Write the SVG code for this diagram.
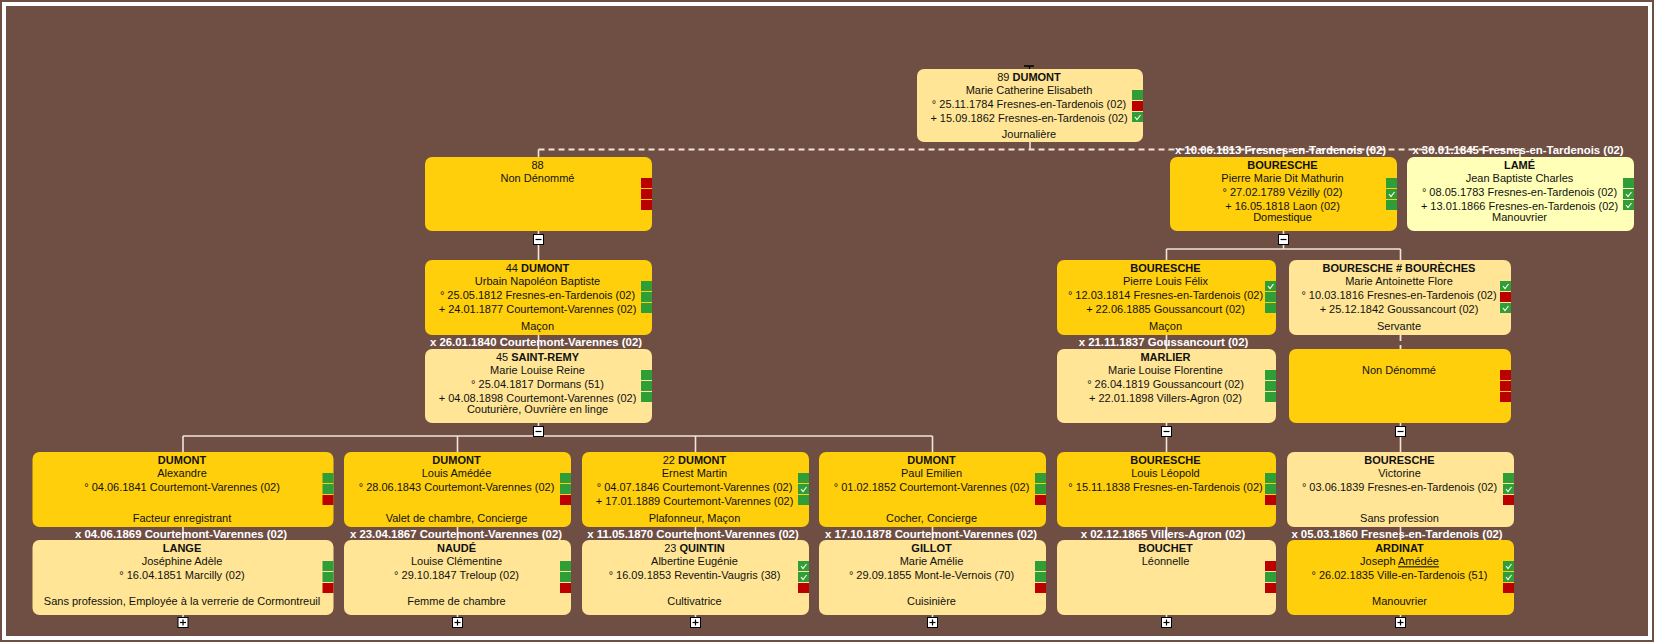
<svg xmlns="http://www.w3.org/2000/svg" xmlns:xlink="http://www.w3.org/1999/xlink" width="1654" height="642" viewBox="0 0 1654 642">
<style>
.bgf{fill:#6F4F43}
.frame{fill:none;stroke:#FFFFFF;stroke-width:4}
.m{fill:#FFCF0C}
.f{fill:#FFE595}
.p{fill:#FFFFB8}
.t{font-family:"Liberation Sans",Arial,sans-serif;font-size:11px;fill:#111;text-anchor:middle}
.b{font-weight:bold}
.lbl{font-family:"Liberation Sans",Arial,sans-serif;font-size:11.4px;font-weight:bold;fill:#FFFFFF;text-anchor:middle}
.gr{fill:#2F9E36}
.rd{fill:#BB0000}
.ln{stroke:#F2E4DA;stroke-width:1.6;fill:none}
.dl{stroke:#F2E4DA;stroke-width:1.8;fill:none;stroke-dasharray:6 4}
.btn{fill:#FFFFFF;stroke:#000;stroke-width:1}
.sg{stroke:#000;stroke-width:1.2;fill:none}
.ck{stroke:#FFFFFF;stroke-width:1.1;fill:none}
</style>
<defs>
<g id="ck"><polyline class="ck" points="3,5 5,7.5 8.5,3"/></g>
<g id="minus"><rect class="btn" x="-5" y="-5" width="10" height="10"/><line class="sg" x1="-3" y1="0" x2="3" y2="0"/></g>
<g id="plus"><rect class="btn" x="-5" y="-5" width="10" height="10"/><line class="sg" x1="-3" y1="0" x2="3" y2="0"/><line class="sg" x1="0" y1="-3" x2="0" y2="3"/></g>
</defs>
<rect class="bgf" x="0" y="0" width="1654" height="642"/>
<rect class="frame" x="4" y="4" width="1646" height="634"/>

<g id="connectors">
<line x1="1024" y1="66" x2="1034" y2="66" stroke="#000" stroke-width="1.5"/>
<line x1="1029.5" y1="66" x2="1029.5" y2="69" stroke="#000" stroke-width="1.2"/>
<line class="ln" x1="1030" y1="142" x2="1030" y2="149.5"/>
<line class="dl" x1="538.5" y1="149.5" x2="1520" y2="149.5"/>
<line class="ln" x1="538.5" y1="149.5" x2="538.5" y2="157"/>
<line class="ln" x1="1283.5" y1="149.5" x2="1283.5" y2="157"/>
<line class="ln" x1="1520" y1="149.5" x2="1520" y2="157"/>
<line class="ln" x1="538.5" y1="231" x2="538.5" y2="260"/>
<line class="ln" x1="1283.5" y1="231" x2="1283.5" y2="249"/>
<line class="ln" x1="1166.5" y1="249" x2="1400.5" y2="249"/>
<line class="ln" x1="1166.5" y1="249" x2="1166.5" y2="260"/>
<line class="ln" x1="1400.5" y1="249" x2="1400.5" y2="260"/>
<line class="ln" x1="538.5" y1="335" x2="538.5" y2="349"/>
<line class="ln" x1="1166.5" y1="335" x2="1166.5" y2="349"/>
<line class="dl" x1="1400.5" y1="335" x2="1400.5" y2="349" stroke-dasharray="4 3"/>
<line class="ln" x1="538.5" y1="423" x2="538.5" y2="436"/>
<line class="ln" x1="183" y1="436" x2="932.5" y2="436"/>
<line class="ln" x1="183" y1="436" x2="183" y2="452"/>
<line class="ln" x1="457.5" y1="436" x2="457.5" y2="452"/>
<line class="ln" x1="695.5" y1="436" x2="695.5" y2="452"/>
<line class="ln" x1="932.5" y1="436" x2="932.5" y2="452"/>
<line class="ln" x1="1166.5" y1="423" x2="1166.5" y2="452"/>
<line class="ln" x1="1400.5" y1="423" x2="1400.5" y2="452"/>
<line class="ln" x1="183" y1="527" x2="183" y2="540"/>
<line class="ln" x1="457.5" y1="527" x2="457.5" y2="540"/>
<line class="ln" x1="695.5" y1="527" x2="695.5" y2="540"/>
<line class="ln" x1="932.5" y1="527" x2="932.5" y2="540"/>
<line class="ln" x1="1166.5" y1="527" x2="1166.5" y2="540"/>
<line class="ln" x1="1400.5" y1="527" x2="1400.5" y2="540"/>
<line class="ln" x1="183" y1="615" x2="183" y2="618"/>
<line class="ln" x1="457.5" y1="615" x2="457.5" y2="618"/>
<line class="ln" x1="695.5" y1="615" x2="695.5" y2="618"/>
<line class="ln" x1="932.5" y1="615" x2="932.5" y2="618"/>
<line class="ln" x1="1166.5" y1="615" x2="1166.5" y2="618"/>
<line class="ln" x1="1400.5" y1="615" x2="1400.5" y2="618"/>
<use xlink:href="#minus" x="538.5" y="239.5"/>
<use xlink:href="#minus" x="1283.5" y="239.5"/>
<use xlink:href="#minus" x="538.5" y="431.5"/>
<use xlink:href="#minus" x="1166.5" y="431.5"/>
<use xlink:href="#minus" x="1400.5" y="431.5"/>
<use xlink:href="#plus" x="183" y="622.5"/>
<use xlink:href="#plus" x="457.5" y="622.5"/>
<use xlink:href="#plus" x="695.5" y="622.5"/>
<use xlink:href="#plus" x="932.5" y="622.5"/>
<use xlink:href="#plus" x="1166.5" y="622.5"/>
<use xlink:href="#plus" x="1400.5" y="622.5"/>
<text class="lbl" x="1280.5" y="154">x 10.06.1813 Fresnes-en-Tardenois (02)</text>
<text class="lbl" x="1518" y="154">x 30.01.1845 Fresnes-en-Tardenois (02)</text>
<text class="lbl" x="536" y="346">x 26.01.1840 Courtemont-Varennes (02)</text>
<text class="lbl" x="1163.5" y="346">x 21.11.1837 Goussancourt (02)</text>
<text class="lbl" x="181" y="537.5">x 04.06.1869 Courtemont-Varennes (02)</text>
<text class="lbl" x="456" y="537.5">x 23.04.1867 Courtemont-Varennes (02)</text>
<text class="lbl" x="693" y="537.5">x 11.05.1870 Courtemont-Varennes (02)</text>
<text class="lbl" x="931" y="537.5">x 17.10.1878 Courtemont-Varennes (02)</text>
<text class="lbl" x="1163" y="537.5">x 02.12.1865 Villers-Agron (02)</text>
<text class="lbl" x="1397" y="537.5">x 05.03.1860 Fresnes-en-Tardenois (02)</text>
</g>

<g id="n89">
<rect class="f" x="917" y="69" width="226" height="73" rx="7"/>
<rect class="gr" x="1132" y="90" width="11" height="10"/><rect class="rd" x="1132" y="101" width="11" height="10"/><rect class="gr" x="1132" y="112" width="11" height="10"/><use xlink:href="#ck" x="1132" y="112"/>
<text class="t" x="1029" y="80.7">89 <tspan class="b">DUMONT</tspan></text>
<text class="t" x="1029" y="94.3">Marie Catherine Elisabeth</text>
<text class="t" x="1029" y="108">° 25.11.1784 Fresnes-en-Tardenois (02)</text>
<text class="t" x="1029" y="121.6">+ 15.09.1862 Fresnes-en-Tardenois (02)</text>
<text class="t" x="1029" y="137.7">Journalière</text>
</g>

<g id="n88">
<rect class="m" x="425" y="157" width="227" height="74" rx="7"/>
<rect class="rd" x="641" y="178" width="11" height="10"/><rect class="rd" x="641" y="189" width="11" height="10"/><rect class="rd" x="641" y="200" width="11" height="10"/>
<text class="t" x="537.5" y="168.7">88</text>
<text class="t" x="537.5" y="182.3">Non Dénommé</text>
</g>

<g id="n_bouresche_pm">
<rect class="m" x="1170" y="157" width="227" height="74" rx="7"/>
<rect class="gr" x="1386" y="178" width="11" height="10"/><rect class="gr" x="1386" y="189" width="11" height="10"/><use xlink:href="#ck" x="1386" y="189"/><rect class="gr" x="1386" y="200" width="11" height="10"/>
<text class="t" x="1282.5" y="168.7"><tspan class="b">BOURESCHE</tspan></text>
<text class="t" x="1282.5" y="182.3">Pierre Marie Dit Mathurin</text>
<text class="t" x="1282.5" y="196">° 27.02.1789 Vézilly (02)</text>
<text class="t" x="1282.5" y="209.6">+ 16.05.1818 Laon (02)</text>
<text class="t" x="1282.5" y="221">Domestique</text>
</g>

<g id="n_lame">
<rect class="p" x="1407" y="157" width="227" height="74" rx="7"/>
<rect class="gr" x="1623" y="178" width="11" height="10"/><rect class="gr" x="1623" y="189" width="11" height="10"/><use xlink:href="#ck" x="1623" y="189"/><rect class="gr" x="1623" y="200" width="11" height="10"/><use xlink:href="#ck" x="1623" y="200"/>
<text class="t" x="1519.5" y="168.7"><tspan class="b">LAMÉ</tspan></text>
<text class="t" x="1519.5" y="182.3">Jean Baptiste Charles</text>
<text class="t" x="1519.5" y="196">° 08.05.1783 Fresnes-en-Tardenois (02)</text>
<text class="t" x="1519.5" y="209.6">+ 13.01.1866 Fresnes-en-Tardenois (02)</text>
<text class="t" x="1519.5" y="221">Manouvrier</text>
</g>

<g id="n44">
<rect class="m" x="425" y="260" width="227" height="75" rx="7"/>
<rect class="gr" x="641" y="281" width="11" height="10"/><rect class="gr" x="641" y="292" width="11" height="10"/><rect class="gr" x="641" y="303" width="11" height="10"/>
<text class="t" x="537.5" y="271.7">44 <tspan class="b">DUMONT</tspan></text>
<text class="t" x="537.5" y="285.3">Urbain Napoléon Baptiste</text>
<text class="t" x="537.5" y="299">° 25.05.1812 Fresnes-en-Tardenois (02)</text>
<text class="t" x="537.5" y="312.6">+ 24.01.1877 Courtemont-Varennes (02)</text>
<text class="t" x="537.5" y="329.7">Maçon</text>
</g>

<g id="n_bouresche_plf">
<rect class="m" x="1057" y="260" width="219" height="75" rx="7"/>
<rect class="gr" x="1265" y="281" width="11" height="10"/><use xlink:href="#ck" x="1265" y="281"/><rect class="gr" x="1265" y="292" width="11" height="10"/><rect class="gr" x="1265" y="303" width="11" height="10"/>
<text class="t" x="1165.5" y="271.7"><tspan class="b">BOURESCHE</tspan></text>
<text class="t" x="1165.5" y="285.3">Pierre Louis Félix</text>
<text class="t" x="1165.5" y="299">° 12.03.1814 Fresnes-en-Tardenois (02)</text>
<text class="t" x="1165.5" y="312.6">+ 22.06.1885 Goussancourt (02)</text>
<text class="t" x="1165.5" y="329.7">Maçon</text>
</g>

<g id="n_boureches">
<rect class="f" x="1289" y="260" width="222" height="75" rx="7"/>
<rect class="gr" x="1500" y="281" width="11" height="10"/><use xlink:href="#ck" x="1500" y="281"/><rect class="rd" x="1500" y="292" width="11" height="10"/><rect class="gr" x="1500" y="303" width="11" height="10"/><use xlink:href="#ck" x="1500" y="303"/>
<text class="t" x="1399" y="271.7"><tspan class="b">BOURESCHE # BOURÈCHES</tspan></text>
<text class="t" x="1399" y="285.3">Marie Antoinette Flore</text>
<text class="t" x="1399" y="299">° 10.03.1816 Fresnes-en-Tardenois (02)</text>
<text class="t" x="1399" y="312.6">+ 25.12.1842 Goussancourt (02)</text>
<text class="t" x="1399" y="329.7">Servante</text>
</g>

<g id="n45">
<rect class="f" x="425" y="349" width="227" height="74" rx="7"/>
<rect class="gr" x="641" y="370" width="11" height="10"/><rect class="gr" x="641" y="381" width="11" height="10"/><rect class="gr" x="641" y="392" width="11" height="10"/>
<text class="t" x="537.5" y="360.7">45 <tspan class="b">SAINT-REMY</tspan></text>
<text class="t" x="537.5" y="374.3">Marie Louise Reine</text>
<text class="t" x="537.5" y="388">° 25.04.1817 Dormans (51)</text>
<text class="t" x="537.5" y="401.6">+ 04.08.1898 Courtemont-Varennes (02)</text>
<text class="t" x="537.5" y="413">Couturière, Ouvrière en linge</text>
</g>

<g id="n_marlier">
<rect class="f" x="1057" y="349" width="219" height="74" rx="7"/>
<rect class="gr" x="1265" y="370" width="11" height="10"/><rect class="gr" x="1265" y="381" width="11" height="10"/><rect class="gr" x="1265" y="392" width="11" height="10"/>
<text class="t" x="1165.5" y="360.7"><tspan class="b">MARLIER</tspan></text>
<text class="t" x="1165.5" y="374.3">Marie Louise Florentine</text>
<text class="t" x="1165.5" y="388">° 26.04.1819 Goussancourt (02)</text>
<text class="t" x="1165.5" y="401.6">+ 22.01.1898 Villers-Agron (02)</text>
</g>

<g id="n_nondenomme">
<rect class="m" x="1289" y="349" width="222" height="74" rx="7"/>
<rect class="rd" x="1500" y="370" width="11" height="10"/><rect class="rd" x="1500" y="381" width="11" height="10"/><rect class="rd" x="1500" y="392" width="11" height="10"/>
<text class="t" x="1399" y="374.3">Non Dénommé</text>
</g>

<g id="n_alexandre">
<rect class="m" x="32.5" y="452" width="301" height="75" rx="7"/>
<rect class="gr" x="322.5" y="473" width="11" height="10"/><rect class="gr" x="322.5" y="484" width="11" height="10"/><rect class="rd" x="322.5" y="495" width="11" height="10"/>
<text class="t" x="182" y="463.7"><tspan class="b">DUMONT</tspan></text>
<text class="t" x="182" y="477.3">Alexandre</text>
<text class="t" x="182" y="491">° 04.06.1841 Courtemont-Varennes (02)</text>
<text class="t" x="182" y="521.7">Facteur enregistrant</text>
</g>

<g id="n_louis_amedee">
<rect class="m" x="344" y="452" width="227" height="75" rx="7"/>
<rect class="gr" x="560" y="473" width="11" height="10"/><rect class="gr" x="560" y="484" width="11" height="10"/><rect class="rd" x="560" y="495" width="11" height="10"/>
<text class="t" x="456.5" y="463.7"><tspan class="b">DUMONT</tspan></text>
<text class="t" x="456.5" y="477.3">Louis Amédée</text>
<text class="t" x="456.5" y="491">° 28.06.1843 Courtemont-Varennes (02)</text>
<text class="t" x="456.5" y="521.7">Valet de chambre, Concierge</text>
</g>

<g id="n22">
<rect class="m" x="582" y="452" width="227" height="75" rx="7"/>
<rect class="gr" x="798" y="473" width="11" height="10"/><rect class="gr" x="798" y="484" width="11" height="10"/><use xlink:href="#ck" x="798" y="484"/><rect class="gr" x="798" y="495" width="11" height="10"/>
<text class="t" x="694.5" y="463.7">22 <tspan class="b">DUMONT</tspan></text>
<text class="t" x="694.5" y="477.3">Ernest Martin</text>
<text class="t" x="694.5" y="491">° 04.07.1846 Courtemont-Varennes (02)</text>
<text class="t" x="694.5" y="504.6">+ 17.01.1889 Courtemont-Varennes (02)</text>
<text class="t" x="694.5" y="521.7">Plafonneur, Maçon</text>
</g>

<g id="n_paul_emilien">
<rect class="m" x="819" y="452" width="227" height="75" rx="7"/>
<rect class="gr" x="1035" y="473" width="11" height="10"/><rect class="gr" x="1035" y="484" width="11" height="10"/><rect class="rd" x="1035" y="495" width="11" height="10"/>
<text class="t" x="931.5" y="463.7"><tspan class="b">DUMONT</tspan></text>
<text class="t" x="931.5" y="477.3">Paul Emilien</text>
<text class="t" x="931.5" y="491">° 01.02.1852 Courtemont-Varennes (02)</text>
<text class="t" x="931.5" y="521.7">Cocher, Concierge</text>
</g>

<g id="n_louis_leopold">
<rect class="m" x="1057" y="452" width="219" height="75" rx="7"/>
<rect class="gr" x="1265" y="473" width="11" height="10"/><rect class="gr" x="1265" y="484" width="11" height="10"/><rect class="rd" x="1265" y="495" width="11" height="10"/>
<text class="t" x="1165.5" y="463.7"><tspan class="b">BOURESCHE</tspan></text>
<text class="t" x="1165.5" y="477.3">Louis Léopold</text>
<text class="t" x="1165.5" y="491">° 15.11.1838 Fresnes-en-Tardenois (02)</text>
</g>

<g id="n_victorine">
<rect class="f" x="1287" y="452" width="227" height="75" rx="7"/>
<rect class="gr" x="1503" y="473" width="11" height="10"/><rect class="gr" x="1503" y="484" width="11" height="10"/><use xlink:href="#ck" x="1503" y="484"/><rect class="rd" x="1503" y="495" width="11" height="10"/>
<text class="t" x="1399.5" y="463.7"><tspan class="b">BOURESCHE</tspan></text>
<text class="t" x="1399.5" y="477.3">Victorine</text>
<text class="t" x="1399.5" y="491">° 03.06.1839 Fresnes-en-Tardenois (02)</text>
<text class="t" x="1399.5" y="521.7">Sans profession</text>
</g>

<g id="n_lange">
<rect class="f" x="32.5" y="540" width="301" height="75" rx="7"/>
<rect class="gr" x="322.5" y="561" width="11" height="10"/><rect class="gr" x="322.5" y="572" width="11" height="10"/><rect class="rd" x="322.5" y="583" width="11" height="10"/>
<text class="t" x="182" y="551.7"><tspan class="b">LANGE</tspan></text>
<text class="t" x="182" y="565.3">Joséphine Adèle</text>
<text class="t" x="182" y="579">° 16.04.1851 Marcilly (02)</text>
<text class="t" x="182" y="605.4">Sans profession, Employée à la verrerie de Cormontreuil</text>
</g>

<g id="n_naude">
<rect class="f" x="344" y="540" width="227" height="75" rx="7"/>
<rect class="gr" x="560" y="561" width="11" height="10"/><rect class="gr" x="560" y="572" width="11" height="10"/><rect class="rd" x="560" y="583" width="11" height="10"/>
<text class="t" x="456.5" y="551.7"><tspan class="b">NAUDÉ</tspan></text>
<text class="t" x="456.5" y="565.3">Louise Clémentine</text>
<text class="t" x="456.5" y="579">° 29.10.1847 Treloup (02)</text>
<text class="t" x="456.5" y="605.4">Femme de chambre</text>
</g>

<g id="n23">
<rect class="f" x="582" y="540" width="227" height="75" rx="7"/>
<rect class="gr" x="798" y="561" width="11" height="10"/><use xlink:href="#ck" x="798" y="561"/><rect class="gr" x="798" y="572" width="11" height="10"/><use xlink:href="#ck" x="798" y="572"/><rect class="rd" x="798" y="583" width="11" height="10"/>
<text class="t" x="694.5" y="551.7">23 <tspan class="b">QUINTIN</tspan></text>
<text class="t" x="694.5" y="565.3">Albertine Eugénie</text>
<text class="t" x="694.5" y="579">° 16.09.1853 Reventin-Vaugris (38)</text>
<text class="t" x="694.5" y="605.4">Cultivatrice</text>
</g>

<g id="n_gillot">
<rect class="f" x="819" y="540" width="227" height="75" rx="7"/>
<rect class="gr" x="1035" y="561" width="11" height="10"/><rect class="gr" x="1035" y="572" width="11" height="10"/><rect class="rd" x="1035" y="583" width="11" height="10"/>
<text class="t" x="931.5" y="551.7"><tspan class="b">GILLOT</tspan></text>
<text class="t" x="931.5" y="565.3">Marie Amélie</text>
<text class="t" x="931.5" y="579">° 29.09.1855 Mont-le-Vernois (70)</text>
<text class="t" x="931.5" y="605.4">Cuisinière</text>
</g>

<g id="n_bouchet">
<rect class="f" x="1057" y="540" width="219" height="75" rx="7"/>
<rect class="rd" x="1265" y="561" width="11" height="10"/><rect class="gr" x="1265" y="572" width="11" height="10"/><rect class="rd" x="1265" y="583" width="11" height="10"/>
<text class="t" x="1165.5" y="551.7"><tspan class="b">BOUCHET</tspan></text>
<text class="t" x="1165.5" y="565.3">Léonnelle</text>
</g>

<g id="n_ardinat">
<rect class="m" x="1287" y="540" width="227" height="75" rx="7"/>
<rect class="gr" x="1503" y="561" width="11" height="10"/><use xlink:href="#ck" x="1503" y="561"/><rect class="gr" x="1503" y="572" width="11" height="10"/><use xlink:href="#ck" x="1503" y="572"/><rect class="rd" x="1503" y="583" width="11" height="10"/>
<text class="t" x="1399.5" y="551.7"><tspan class="b">ARDINAT</tspan></text>
<text class="t" x="1399.5" y="565.3">Joseph <tspan text-decoration="underline">Amédée</tspan></text>
<text class="t" x="1399.5" y="579">° 26.02.1835 Ville-en-Tardenois (51)</text>
<text class="t" x="1399.5" y="605.4">Manouvrier</text>
</g>
</svg>
